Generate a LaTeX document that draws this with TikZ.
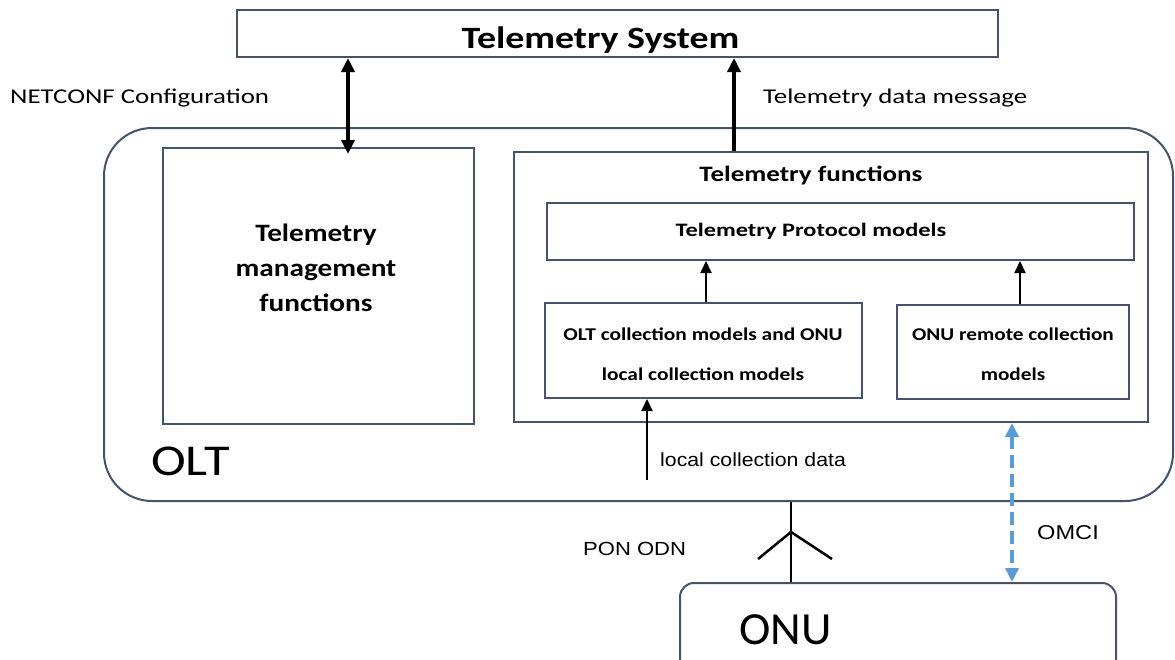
\documentclass[tikz,border=0pt]{standalone}
\usepackage{fontspec}
\usepackage{graphicx}
\setmainfont{Carlito}
\newfontfamily\arialf{Liberation Sans}
\usetikzlibrary{arrows.meta}
\definecolor{boxc}{HTML}{44546A}
\definecolor{omcic}{HTML}{5B9BD5}
\newcommand{\hs}[2]{\scalebox{#1}[1]{#2}}
\begin{document}
\begin{tikzpicture}[x=1pt,y=-1pt,
  box/.style={draw=boxc,line width=2pt,inner sep=0pt,fill=none},
  lbl/.style={inner sep=0pt,align=center},
  bigarrow/.style={line width=4pt,-{Triangle[length=14pt,width=13pt]}},
  bigdarrow/.style={line width=4pt,{Triangle[length=14pt,width=13pt]}-{Triangle[length=14pt,width=13pt]}},
  thinarrow/.style={line width=2pt,-{Triangle[length=12pt,width=11pt]}},
  omciarrow/.style={draw=omcic,line width=4pt,dash pattern=on 13pt off 6pt,{Triangle[length=14pt,width=13pt]}-{Triangle[length=14pt,width=13pt]}},
  fiber/.style={line width=2.5pt}]
\useasboundingbox (0,0) rectangle (1175,659);
\fill[white] (0,0) rectangle (1175,659);

% boxes
\node[box,minimum width=761pt,minimum height=47pt] (ts) at (617.5,33.5) {};
\node[box,rounded corners=48pt,minimum width=1069pt,minimum height=373pt] (olt) at (638.5,314.5) {};
\node[box,minimum width=311pt,minimum height=276pt] (tmf) at (318.5,286) {};
\node[box,minimum width=634pt,minimum height=270pt] (tf) at (831,287) {};
\node[box,minimum width=587pt,minimum height=57pt] (tpm) at (840.5,231.5) {};
\node[box,minimum width=317pt,minimum height=95pt] (ocm) at (703.5,350.5) {};
\node[box,minimum width=232pt,minimum height=94pt] (orm) at (1013,352) {};
\node[box,rounded corners=14pt,minimum width=436pt,minimum height=110pt] (onu) at (898,638) {};

% texts
\node[lbl,font=\bfseries\fontsize{31}{31}\selectfont] (tst) at (600.5,40) {\hs{1.22}{Telemetry System}};
\node[lbl,anchor=west,font=\fontsize{21}{21}\selectfont] (nct) at (10,98) {\hs{1.28}{NETCONF Configuration}};
\node[lbl,anchor=west,font=\fontsize{21}{21}\selectfont] (tdm) at (763,98) {\hs{1.28}{Telemetry data message}};
\node[lbl,font=\bfseries\fontsize{25}{35}\selectfont] (tmft) at (316,268) {\hs{1.17}{Telemetry}\\\hs{1.17}{management}\\\hs{1.17}{functions}};
\node[lbl,anchor=west,font=\fontsize{44}{44}\selectfont] (oltt) at (151,461) {\hs{1.19}{OLT}};
\node[lbl,font=\bfseries\fontsize{22}{22}\selectfont] (tft) at (811,175) {\hs{1.23}{Telemetry functions}};
\node[lbl,font=\bfseries\fontsize{19}{19}\selectfont] (tpmt) at (811,231) {\hs{1.28}{Telemetry Protocol models}};
\node[lbl,font=\bfseries\fontsize{18}{40}\selectfont] (ocmt) at (703,354) {\hs{1.19}{OLT collection models and ONU}\\\hs{1.19}{local collection models}};
\node[lbl,font=\bfseries\fontsize{18}{40}\selectfont] (ormt) at (1013,354) {\hs{1.18}{ONU remote collection}\\\hs{1.18}{models}};
\node[lbl,anchor=west,font=\arialf\fontsize{19}{19}\selectfont] (lcd) at (660,460) {\hs{1.12}{local collection data}};
\node[lbl,anchor=west,font=\arialf\fontsize{19}{19}\selectfont] (pon) at (583,549) {\hs{1.16}{PON ODN}};
\node[lbl,anchor=west,font=\arialf\fontsize{20}{20}\selectfont] (omt) at (1037,533) {\hs{1.18}{OMCI}};
\node[lbl,anchor=west,font=\fontsize{46}{46}\selectfont] (onut) at (739,630) {\hs{1.03}{ONU}};

% connectors
\coordinate (xnc) at (348,0);
\draw[bigdarrow] (xnc |- ts.south) -- ([yshift=-7pt]xnc |- tmf.north);
\coordinate (xtd) at (734,0);
\draw[bigarrow] (xtd |- tf.north) -- (xtd |- ts.south);
\coordinate (xa1) at (706,0);
\draw[thinarrow] (xa1 |- ocm.north) -- (xa1 |- tpm.south);
\coordinate (xa2) at (1020,0);
\draw[thinarrow] (xa2 |- orm.north) -- (xa2 |- tpm.south);
\coordinate (lcs) at (647,480);
\draw[thinarrow] (lcs) -- (lcs |- ocm.south);
\coordinate (xom) at (1012,0);
\draw[omciarrow] (xom |- tf.south) -- (xom |- onu.north);
\coordinate (xpon) at (791,0);
\coordinate (ybr) at (791,532);
\coordinate (brl) at (758,559);
\coordinate (brr) at (832,559);
\draw[fiber] (xpon |- olt.south) -- (xpon |- onu.north);
\draw[fiber] (brl) -- (ybr) -- (brr);
\end{tikzpicture}
\end{document}
